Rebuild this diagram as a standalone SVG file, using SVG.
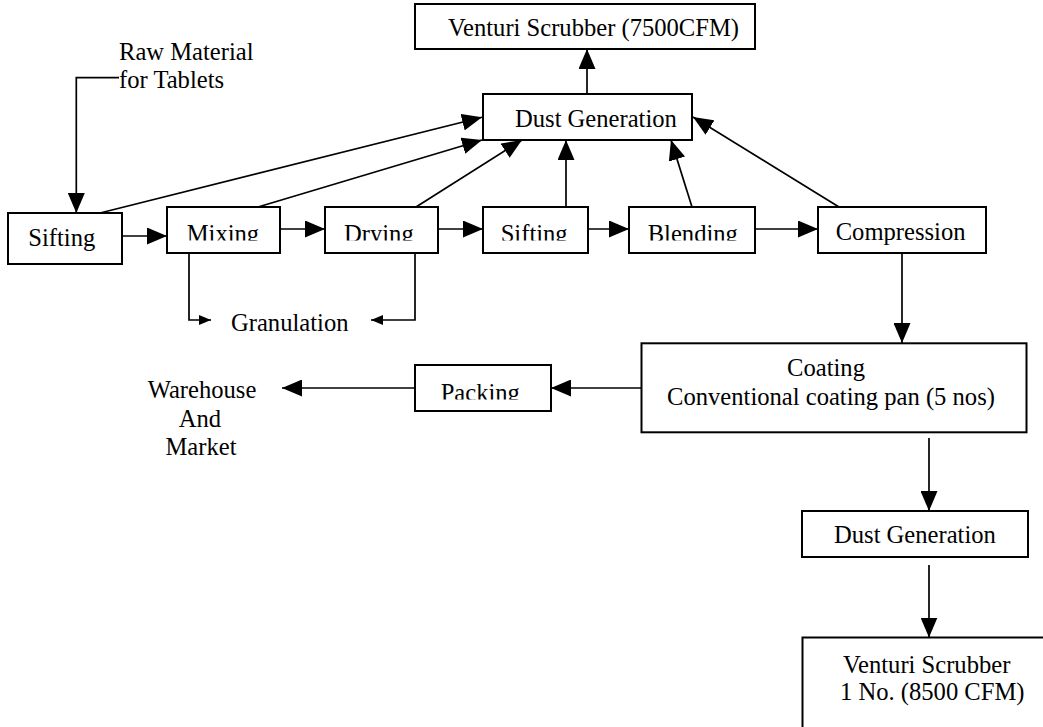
<svg xmlns="http://www.w3.org/2000/svg" width="1043" height="727" viewBox="0 0 1043 727" font-family="'Liberation Serif', 'DejaVu Serif', serif">
  <style>
    .box { fill: #ffffff; stroke: #000000; stroke-width: 2; }
    .lbl { font-family: 'Liberation Serif', 'DejaVu Serif', serif; font-size: 24.6px; fill: #000000; }
    .mid { text-anchor: middle; }
    .edge { fill: none; stroke: #000000; stroke-width: 1.7; }
    .big { marker-end: url(#arrow); }
    .small { marker-end: url(#arrow-sm); }
  </style>
  <defs>
    <marker id="arrow" markerUnits="userSpaceOnUse" markerWidth="20" markerHeight="17" refX="20" refY="8.5" orient="auto">
      <path d="M0,0 L20,8.5 L0,17 Z" fill="#000000"/>
    </marker>
    <marker id="arrow-sm" markerUnits="userSpaceOnUse" markerWidth="12" markerHeight="10" refX="12" refY="5" orient="auto">
      <path d="M0,0 L12,5 L0,10 Z" fill="#000000"/>
    </marker>
    <!-- text frames that cut off the lower part of their labels -->
    <clipPath id="clip-mixing"><rect x="167" y="207" width="113" height="33.5"/></clipPath>
    <clipPath id="clip-drying"><rect x="325" y="207" width="113" height="33.5"/></clipPath>
    <clipPath id="clip-sifting2"><rect x="483" y="207" width="105" height="33.5"/></clipPath>
    <clipPath id="clip-blending"><rect x="629" y="207" width="126" height="33.5"/></clipPath>
    <clipPath id="clip-packing"><rect x="415" y="365" width="136" height="34.5"/></clipPath>
  </defs>

  <rect width="1043" height="727" fill="#ffffff"/>

  <!-- connectors -->
  <g id="connectors">
    <polyline class="edge big" points="119,77.7 76.3,77.7 76.3,213"/>
    <line class="edge big" x1="122" y1="236" x2="167" y2="236"/>
    <line class="edge big" x1="280" y1="229" x2="325" y2="229"/>
    <line class="edge big" x1="438" y1="229" x2="483" y2="229"/>
    <line class="edge big" x1="588" y1="229" x2="629" y2="229"/>
    <line class="edge big" x1="755" y1="229" x2="818" y2="229"/>
    <line class="edge big" x1="587" y1="94" x2="587" y2="49"/>
    <line class="edge big" x1="100" y1="213" x2="482" y2="117.3"/>
    <line class="edge big" x1="258" y1="207" x2="482" y2="140"/>
    <line class="edge big" x1="416" y1="207" x2="522" y2="140"/>
    <line class="edge big" x1="566" y1="207" x2="566" y2="140"/>
    <line class="edge big" x1="692" y1="207" x2="671" y2="140"/>
    <line class="edge big" x1="839" y1="207" x2="693" y2="117"/>
    <polyline class="edge small" points="189,253 189,320 211,320"/>
    <polyline class="edge small" points="415,253 415,320 371,320"/>
    <line class="edge big" x1="902" y1="253" x2="902" y2="343"/>
    <line class="edge big" x1="641.5" y1="388" x2="551" y2="388"/>
    <line class="edge big" x1="415" y1="388" x2="282" y2="388"/>
    <line class="edge big" x1="929" y1="438" x2="929" y2="511"/>
    <line class="edge big" x1="929" y1="565" x2="929" y2="637.5"/>
  </g>

  <!-- nodes -->
  <g id="raw-material">
    <text class="lbl" x="119" y="60">Raw Material</text>
    <text class="lbl" x="119" y="88">for Tablets</text>
  </g>
  <g id="venturi-scrubber-1">
    <rect class="box" x="415" y="4" width="340" height="45"/>
    <text class="lbl" x="448" y="36">Venturi Scrubber (7500CFM)</text>
  </g>
  <g id="dust-generation-1">
    <rect class="box" x="483" y="94" width="209" height="46"/>
    <text class="lbl" x="515" y="127">Dust Generation</text>
  </g>
  <g id="sifting-1">
    <rect class="box" x="8" y="213" width="114" height="51"/>
    <text class="lbl" x="28.3" y="246">Sifting</text>
  </g>
  <g id="mixing">
    <rect class="box" x="167" y="207" width="113" height="46"/>
    <text class="lbl" x="186.7" y="241.5" clip-path="url(#clip-mixing)">Mixing</text>
  </g>
  <g id="drying">
    <rect class="box" x="325" y="207" width="113" height="46"/>
    <text class="lbl" x="344" y="241.5" clip-path="url(#clip-drying)">Drying</text>
  </g>
  <g id="sifting-2">
    <rect class="box" x="483" y="207" width="105" height="46"/>
    <text class="lbl" x="500.7" y="241.5" clip-path="url(#clip-sifting2)">Sifting</text>
  </g>
  <g id="blending">
    <rect class="box" x="629" y="207" width="126" height="46"/>
    <text class="lbl" x="647.7" y="241.5" clip-path="url(#clip-blending)">Blending</text>
  </g>
  <g id="compression">
    <rect class="box" x="818" y="207" width="168" height="46"/>
    <text class="lbl" x="835.7" y="239.5">Compression</text>
  </g>
  <g id="granulation">
    <text class="lbl" x="231" y="330.5">Granulation</text>
  </g>
  <g id="coating">
    <rect class="box" x="641.5" y="343.3" width="385" height="89"/>
    <text class="lbl mid" x="826" y="376">Coating</text>
    <text class="lbl mid" x="831" y="405">Conventional coating pan (5 nos)</text>
  </g>
  <g id="packing">
    <rect class="box" x="415" y="365" width="136" height="46"/>
    <text class="lbl" x="440.7" y="400.5" clip-path="url(#clip-packing)">Packing</text>
  </g>
  <g id="warehouse">
    <text class="lbl mid" x="202" y="398">Warehouse</text>
    <text class="lbl mid" x="200" y="426.5">And</text>
    <text class="lbl mid" x="201" y="455">Market</text>
  </g>
  <g id="dust-generation-2">
    <rect class="box" x="802" y="511" width="226" height="46"/>
    <text class="lbl" x="834" y="543">Dust Generation</text>
  </g>
  <g id="venturi-scrubber-2">
    <rect class="box" x="802.5" y="637.5" width="260" height="120"/>
    <text class="lbl" x="843" y="673">Venturi Scrubber</text>
    <text class="lbl" x="840" y="700">1 No. (8500 CFM)</text>
  </g>
</svg>
